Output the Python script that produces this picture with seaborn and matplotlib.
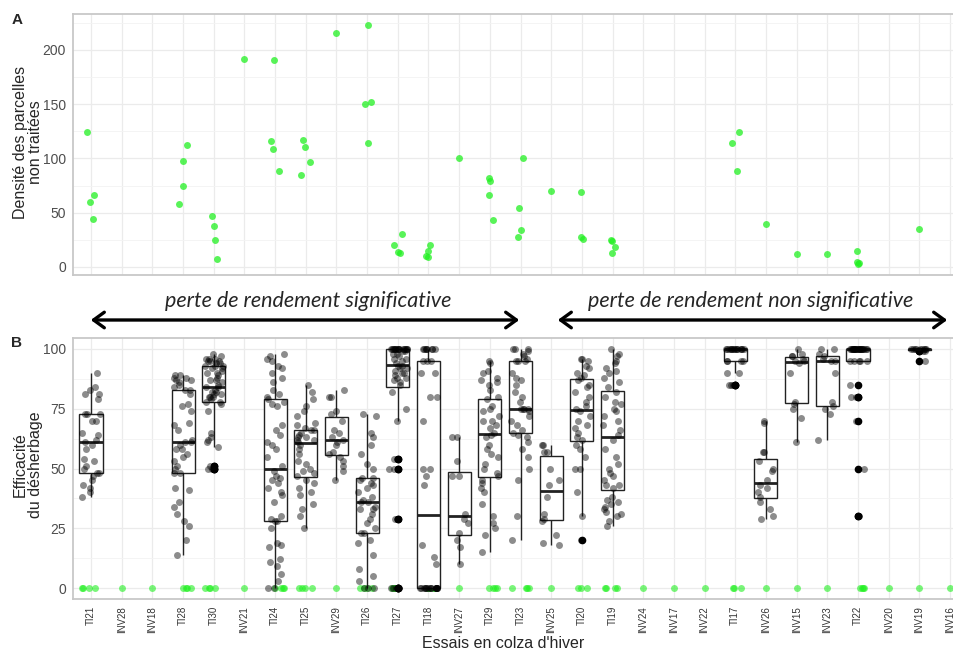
import numpy as np
import pandas as pd
import matplotlib
matplotlib.use("Agg")
import matplotlib.pyplot as plt
from matplotlib.patches import FancyArrowPatch
from matplotlib.ticker import MultipleLocator
import seaborn as sns

# ---------------- data ----------------
essais = ["TI21", "INV28", "INV18", "TI28", "TI30", "INV21", "TI24", "TI25", "INV29",
          "TI26", "TI27", "TI18", "INV27", "TI29", "TI23", "INV25", "TI20", "TI19",
          "INV24", "INV17", "INV22", "TI17", "INV26", "INV15", "INV23", "TI22",
          "INV20", "INV19", "INV16"]

# panel A: weed density in untreated plots
dens_TI21 = [124, 66, 60, 44]
dens_TI28 = [112, 98, 75, 58]
dens_TI30 = [47, 38, 25, 7]
dens_INV21 = [192]
dens_TI24 = [191, 116, 109, 88]
dens_TI25 = [117, 111, 97, 85]
dens_INV29 = [216]
dens_TI26 = [223, 152, 150, 114]
dens_TI27 = [30, 20, 14, 13]
dens_TI18 = [20, 15, 10, 9]
dens_INV27 = [100]
dens_TI29 = [82, 79, 66, 43]
dens_TI23 = [100, 54, 34, 28]
dens_INV25 = [70]
dens_TI20 = [69, 28, 26]
dens_TI19 = [25, 24, 18, 13]
dens_TI17 = [124, 114, 88]
dens_INV26 = [40]
dens_INV15 = [12]
dens_INV23 = [12]
dens_TI22 = [15, 5, 4, 3]
dens_INV19 = [35]

# panel B: weeding efficacy of treated plots
eff_TI21 = [38, 40, 42, 43, 45, 47, 48, 48, 50, 51, 53, 54, 58, 60, 61, 62, 64, 65, 70, 70,
            73, 73, 73, 79, 81, 81, 83, 84, 90]
eff_TI28 = [14, 20, 26, 28, 31, 34, 36, 41, 42, 48, 48, 50, 51, 53, 55, 56, 58, 58, 60, 61,
            61, 62, 66, 68, 69, 74, 76, 77, 81, 83, 83, 84, 85, 86, 87, 87, 88, 88, 89, 89]
eff_TI30 = [50, 50, 50, 51, 51, 59, 61, 62, 63, 65, 74, 77, 78, 78, 79, 80, 80, 80, 81, 81,
            82, 82, 83, 84, 84, 85, 86, 87, 87, 88, 89, 90, 90, 91, 92, 92, 93, 93, 93, 94,
            94, 95, 95, 95, 96, 96, 96, 97, 98]
eff_TI24 = [0, 0, 3, 6, 9, 11, 12, 17, 18, 19, 25, 28, 28, 29, 30, 36, 39, 40, 42, 44,
            45, 46, 47, 49, 51, 55, 58, 60, 61, 64, 66, 68, 76, 77, 78, 79, 80, 81, 83, 86,
            88, 90, 92, 93, 95, 96, 97, 98]
eff_TI25 = [25, 30, 33, 35, 39, 40, 42, 44, 45, 47, 48, 49, 50, 52, 53, 56, 58, 60, 61, 62,
            62, 63, 63, 64, 65, 66, 66, 67, 68, 69, 72, 74, 76, 79, 82, 85]
eff_INV29 = [45, 49, 51, 53, 55, 56, 57, 60, 61, 62, 63, 65, 66, 70, 73, 74, 80, 80, 83]
eff_TI26 = [0, 0, 0, 3, 5, 8, 14, 19, 20, 23, 23, 25, 27, 29, 31, 33, 33, 34, 36, 36,
            37, 38, 40, 42, 43, 44, 45, 46, 46, 50, 52, 56, 60, 63, 65, 72, 73]
eff_TI27 = [0, 0, 0, 0, 29, 29, 50, 50, 54, 54, 70, 75, 82, 85, 86, 87, 88, 88, 89, 90,
            90, 91, 92, 92, 93, 93, 94, 95, 96, 96, 97, 98, 98, 99, 99,
            100, 100, 100, 100, 100, 100, 100, 100, 100, 100, 100, 100, 100, 100, 100, 100, 100]
eff_TI18 = [0, 0, 0, 0, 0, 0, 0, 0, 0, 0, 0, 0, 0, 0, 0, 0, 0, 10, 13, 18,
            43, 47, 50, 50, 70, 80, 80, 90, 90, 95, 95, 95, 100, 100, 100, 100, 100, 100, 100, 100]
eff_INV27 = [10, 17, 20, 23, 27, 29, 31, 47, 47, 53, 63, 63]
eff_TI29 = [15, 22, 25, 27, 30, 35, 40, 42, 44, 45, 47, 48, 50, 52, 55, 56, 58, 60, 63, 64,
            65, 67, 68, 70, 70, 72, 74, 75, 76, 79, 80, 83, 85, 86, 87, 88, 90, 91, 94, 95]
eff_TI23 = [20, 30, 45, 50, 55, 58, 61, 63, 64, 65, 66, 68, 70, 72, 74, 75, 75, 75, 75, 78,
            80, 82, 85, 87, 88, 90, 95, 95, 95, 96, 97, 98, 99, 100, 100, 100]
eff_INV25 = [18, 19, 22, 28, 29, 31, 38, 43, 45, 50, 57, 57, 60, 60]
eff_TI20 = [20, 30, 40, 50, 50, 55, 58, 60, 62, 63, 65, 67, 68, 70, 72, 74, 75, 76, 78, 80,
            82, 84, 85, 87, 88, 89, 90, 92, 93, 95, 96, 96]
eff_TI19 = [26, 28, 30, 31, 32, 33, 34, 35, 36, 37, 38, 42, 43, 43, 45, 47, 48, 50, 52, 55,
            58, 62, 64, 66, 68, 70, 72, 74, 75, 77, 78, 80, 82, 84, 86, 88, 90, 91, 92, 94,
            95, 97, 98, 100]
eff_TI17 = [85, 85, 85, 90, 90, 95, 95, 95, 95,
            100, 100, 100, 100, 100, 100, 100, 100, 100, 100, 100, 100, 100, 100, 100]
eff_INV26 = [29, 30, 33, 36, 38, 40, 42, 43, 45, 49, 50, 53, 57, 57, 69, 70]
eff_INV15 = [61, 71, 75, 77, 78, 90, 94, 95, 95, 96, 97, 97, 98, 100]
eff_INV23 = [62, 73, 75, 76, 78, 90, 95, 95, 96, 97, 98, 100, 100]
eff_TI22 = [30, 30, 50, 70, 80, 80, 85, 95, 95, 95, 95, 95,
            100, 100, 100, 100, 100, 100, 100, 100, 100, 100, 100, 100,
            100, 100, 100, 100, 100, 100, 100, 100, 100, 100, 100, 100]
eff_INV19 = [95, 99, 99, 100, 100, 100, 100, 100, 100, 100, 100, 100]

# number of untreated plots per trial (green points at 0 in panel B)
n_temoins = [4, 1, 1, 4, 4, 1, 4, 4, 1, 4, 4, 4, 1, 4, 4, 1, 3, 4, 1, 1, 1, 3, 1, 1, 1, 4, 1, 1, 1]

dens_series = {"TI21": dens_TI21, "TI28": dens_TI28, "TI30": dens_TI30, "INV21": dens_INV21,
               "TI24": dens_TI24, "TI25": dens_TI25, "INV29": dens_INV29, "TI26": dens_TI26,
               "TI27": dens_TI27, "TI18": dens_TI18, "INV27": dens_INV27, "TI29": dens_TI29,
               "TI23": dens_TI23, "INV25": dens_INV25, "TI20": dens_TI20, "TI19": dens_TI19,
               "TI17": dens_TI17, "INV26": dens_INV26, "INV15": dens_INV15, "INV23": dens_INV23,
               "TI22": dens_TI22, "INV19": dens_INV19}
eff_series = {"TI21": eff_TI21, "TI28": eff_TI28, "TI30": eff_TI30, "TI24": eff_TI24,
              "TI25": eff_TI25, "INV29": eff_INV29, "TI26": eff_TI26, "TI27": eff_TI27,
              "TI18": eff_TI18, "INV27": eff_INV27, "TI29": eff_TI29, "TI23": eff_TI23,
              "INV25": eff_INV25, "TI20": eff_TI20, "TI19": eff_TI19, "TI17": eff_TI17,
              "INV26": eff_INV26, "INV15": eff_INV15, "INV23": eff_INV23, "TI22": eff_TI22,
              "INV19": eff_INV19}

dens_df = pd.DataFrame([(k, v) for k, vals in dens_series.items() for v in vals],
                       columns=["essai", "val"])
eff_df = pd.DataFrame([(k, v) for k, vals in eff_series.items() for v in vals],
                      columns=["essai", "val"])
zero_df = pd.DataFrame([(e, 0) for e, n in zip(essais, n_temoins) for _ in range(n)],
                       columns=["essai", "val"])

# ---------------- style ----------------
sns.set_style("white")
plt.rcParams["font.family"] = ["Liberation Sans", "DejaVu Sans"]

GREEN = "#22f022"
W, H = 954, 650
fig = plt.figure(figsize=(W / 100, H / 100), dpi=100)

x_left = 73
x_right = 962
cat0 = 91.0
step = 30.68
xlim = ((x_left - cat0) / step, (x_right - cat0) / step)

axA = fig.add_axes([x_left / W, 1 - 275 / H, (x_right - x_left) / W, 261 / H])
axB = fig.add_axes([x_left / W, 1 - 599 / H, (x_right - x_left) / W, 261 / H])

np.random.seed(7)

# panel A
sns.stripplot(data=dens_df, x="essai", y="val", order=essais, ax=axA, color=GREEN,
              alpha=0.75, size=5, jitter=0.15, linewidth=0, zorder=3)

# panel B
sns.stripplot(data=zero_df, x="essai", y="val", order=essais, ax=axB, color=GREEN,
              alpha=0.6, size=5, jitter=0.3, linewidth=0, zorder=2)
sns.boxplot(data=eff_df, x="essai", y="val", order=essais, ax=axB, color="white",
            saturation=1, linecolor="#222222", linewidth=1.0, width=0.75, fliersize=4.5,
            showcaps=False,
            flierprops=dict(marker="o", markerfacecolor="black", markeredgecolor="black"),
            medianprops=dict(linewidth=2.0), zorder=2.5)
sns.stripplot(data=eff_df, x="essai", y="val", order=essais, ax=axB, color="black",
              alpha=0.45, size=5, jitter=0.3, linewidth=0, zorder=3)

for ax in (axA, axB):
    ax.set_xlim(*xlim)
    ax.set_xlabel("")
    ax.set_ylabel("")
    ax.set_axisbelow(True)
    ax.grid(True, which="major", color="#ebebeb", linewidth=0.9)
    ax.grid(True, which="minor", axis="y", color="#f3f3f3", linewidth=0.6)
    for s in ax.spines.values():
        s.set_color("#c8c8c8")
        s.set_linewidth(1.3)
    ax.tick_params(axis="both", which="major", length=3, width=0.8, color="#333333",
                   labelsize=10, labelcolor="#4d4d4d", pad=2)
    ax.tick_params(axis="y", which="minor", length=0)

axA.set_ylim(-7.4, 233.1)
axA.set_yticks([0, 50, 100, 150, 200])
axA.yaxis.set_minor_locator(MultipleLocator(25))
axA.set_xticks(range(len(essais)))
axA.set_xticklabels([])

axB.set_ylim(-4.6, 104.6)
axB.set_yticks([0, 25, 50, 75, 100])
axB.yaxis.set_minor_locator(MultipleLocator(12.5))
axB.set_xticks(range(len(essais)))
axB.set_xticklabels(essais, rotation=90, fontsize=7, color="#333333")

# titles and labels
fig.text(17 / W, 1 - 20 / H, "A", fontsize=11, fontweight="bold", ha="center", va="center")
fig.text(17 / W, 1 - 343 / H, "B", fontsize=11, fontweight="bold", ha="center", va="center")
fig.text(28 / W, 1 - 142 / H, "Densité des parcelles\nnon traitées", rotation=90,
         fontsize=11.5, ha="center", va="center", multialignment="center", linespacing=1.0)
fig.text(28 / W, 1 - 465 / H, "Efficacité\ndu désherbage", rotation=90,
         fontsize=11.5, ha="center", va="center", multialignment="center", linespacing=1.0)
fig.text(503 / W, 1 - 643 / H, "Essais en colza d'hiver", fontsize=11.5,
         ha="center", va="center")

# arrows and annotations
ya = 1 - 320 / H
for x0, x1 in [(88, 522), (555, 950)]:
    fig.add_artist(FancyArrowPatch((x0 / W, ya), (x1 / W, ya), transform=fig.transFigure,
                                   arrowstyle="<->,head_length=0.55,head_width=0.4",
                                   mutation_scale=14, lw=2.4, color="black"))
fig.text(308 / W, 1 - 301 / H, "perte de rendement significative", fontsize=15.5,
         style="italic", family=["Lato", "DejaVu Sans"], ha="center", va="center")
fig.text(751 / W, 1 - 301 / H, "perte de rendement non significative", fontsize=15.5,
         style="italic", family=["Lato", "DejaVu Sans"], ha="center", va="center")

fig.savefig("out.png", dpi=100)
